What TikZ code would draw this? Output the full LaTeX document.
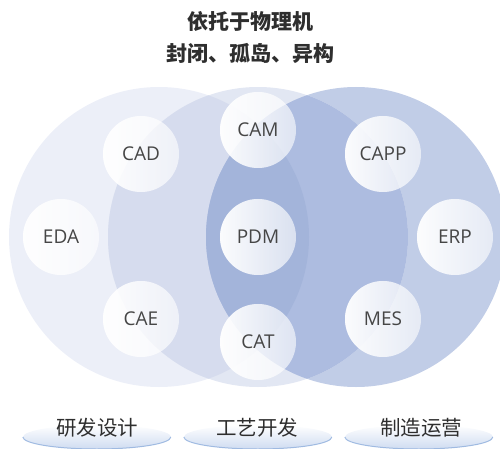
\documentclass[tikz,border=0pt]{standalone}
\usepackage{fontspec}
\newfontfamily\cjk{Noto Sans CJK SC}
\newfontfamily\osans{Open Sans}
\usetikzlibrary{fadings,shapes.geometric}
\definecolor{cA}{HTML}{ECEFF8}
\definecolor{cB}{HTML}{D6DCEE}
\definecolor{cC}{HTML}{A3B4DA}
\definecolor{cD}{HTML}{ADBCE0}
\definecolor{cE}{HTML}{C1CDE7}
\definecolor{cF}{HTML}{E2E7F3}
\definecolor{textgray}{HTML}{464646}
\definecolor{titlegray}{HTML}{2E2E2E}
\definecolor{pillblue}{HTML}{CFDCF1}
\definecolor{rimblue}{HTML}{8EAEDC}
\tikzfading[name=myfade, left color=transparent!0, right color=transparent!100]
\tikzset{
  smallc/.style={circle, minimum size=76pt, inner sep=0pt, fill=white, fill opacity=0.6, text opacity=1,
    preaction={fill=white, path fading=myfade, fill opacity=0.9},
    font=\osans\fontsize{19}{20}\selectfont, text=textgray},
  titletext/.style={font=\cjk\bfseries\fontsize{21}{23}\selectfont, text=titlegray},
  labeltext/.style={font=\cjk\fontsize{20.5}{22}\selectfont, text=titlegray},
  pill/.style={ellipse, minimum width=148pt, minimum height=24pt, inner sep=0pt, top color=white, bottom color=pillblue}
}
\begin{document}
\begin{tikzpicture}[x=1pt,y=-1pt]
\useasboundingbox (0,0) rectangle (500,449);
\clip (0,0) rectangle (500,449);
\coordinate (cl) at (159,237);
\coordinate (cm) at (258,237);
\coordinate (cr) at (356,237);
% big circles
\fill[cA] (cl) circle[radius=150];
\fill[cE] (cr) circle[radius=150];
\fill[cF] (cm) circle[radius=150];
\begin{scope}
  \clip (cm) circle[radius=150];
  \fill[cB] (cl) circle[radius=150];
  \fill[cD] (cr) circle[radius=150];
  \clip (cl) circle[radius=150];
  \fill[cC] (cr) circle[radius=150];
\end{scope}
% small circles
\node[smallc] (cad) at (141,154) {CAD};
\node[smallc] (eda) at (61,237) {EDA};
\node[smallc] (cae) at (141,319) {CAE};
\node[smallc] (cam) at (258,130) {CAM};
\node[smallc] (pdm) at (258,237) {PDM};
\node[smallc] (cat) at (258,342) {CAT};
\node[smallc] (capp) at (383,154) {CAPP};
\node[smallc] (erp) at (455,237) {ERP};
\node[smallc] (mes) at (383,319) {MES};
% title
\node[titletext] (t1) at (250,22) {依托于物理机};
\node[titletext] (t2) at (250,53) {封闭、孤岛、异构};
% bottom pills
\foreach \cx/\nm in {97/p1, 258/p2, 419/p3}{
  \node[pill] (\nm) at (\cx,437) {};
  \draw[rimblue, line width=1pt, opacity=0.8] (\nm.west) arc[start angle=180, end angle=0, x radius=74, y radius=12];
}
\node[labeltext] (l1) at (97,428) {研发设计};
\node[labeltext] (l2) at (257,428) {工艺开发};
\node[labeltext] (l3) at (421,428) {制造运营};
\end{tikzpicture}
\end{document}
